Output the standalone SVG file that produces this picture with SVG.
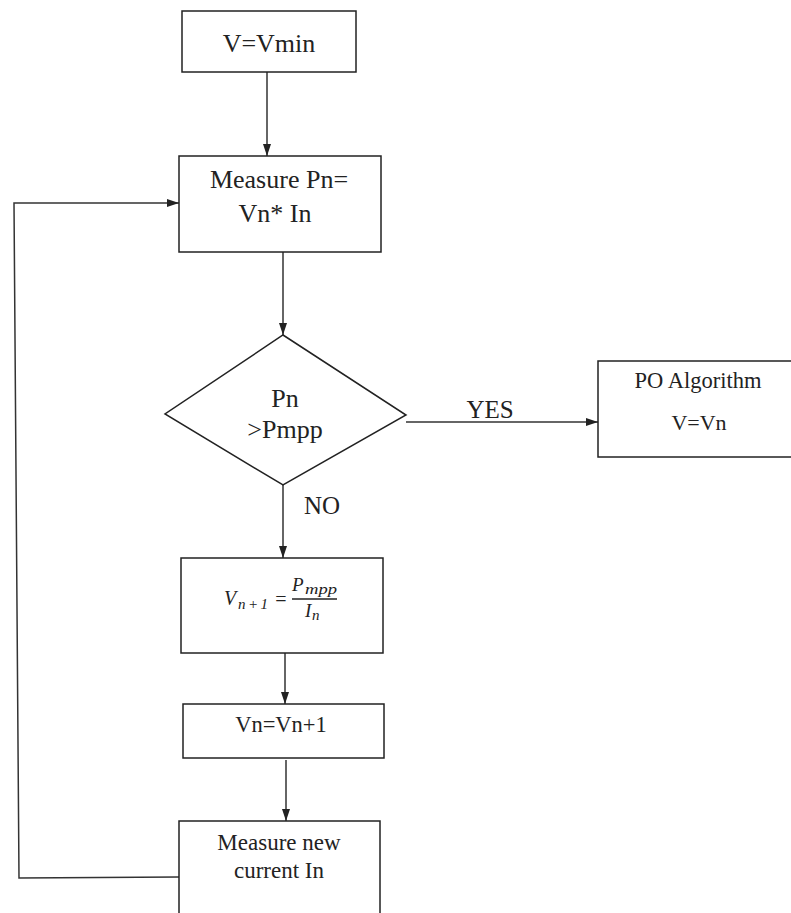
<svg xmlns="http://www.w3.org/2000/svg" width="791" height="913" viewBox="0 0 791 913">
<style>
.box{fill:#fff;stroke:#222;stroke-width:1.5}
.ln{fill:none;stroke:#333;stroke-width:1.5}
.t{font-family:'Liberation Serif','Times New Roman',serif;fill:#222;text-anchor:middle}
.m{font-family:'Liberation Serif','Times New Roman',serif;fill:#222;font-style:italic}
</style>
<defs>
<marker id="ah" viewBox="0 0 12 8" refX="12" refY="4" markerWidth="12" markerHeight="8" markerUnits="userSpaceOnUse" orient="auto">
<path d="M0,0 L12,4 L0,8 Z" fill="#222"/>
</marker>
</defs>
<rect width="791" height="913" fill="#fff"/>
<g id="connectors">
<line class="ln" x1="267" y1="72" x2="267" y2="156" marker-end="url(#ah)"/>
<line class="ln" x1="283" y1="252" x2="283" y2="335" marker-end="url(#ah)"/>
<line class="ln" x1="406" y1="422" x2="598" y2="422" marker-end="url(#ah)"/>
<line class="ln" x1="283" y1="485" x2="283" y2="558" marker-end="url(#ah)"/>
<line class="ln" x1="285" y1="653" x2="285" y2="704" marker-end="url(#ah)"/>
<line class="ln" x1="286" y1="760" x2="286" y2="821" marker-end="url(#ah)"/>
<polyline class="ln" points="179,877 19,878 14,203 179,203" marker-end="url(#ah)"/>
<text class="t" font-family="Liberation Serif, serif" x="490" y="418" font-size="25">YES</text>
<text class="t" font-family="Liberation Serif, serif" x="322" y="514" font-size="25">NO</text>
</g>
<g id="start">
<rect class="box" x="182" y="11" width="174" height="61"/>
<text class="t" font-family="Liberation Serif, serif" x="269" y="52" font-size="26">V=Vmin</text>
</g>
<g id="measure">
<rect class="box" x="179" y="156" width="202" height="96"/>
<text class="t" font-family="Liberation Serif, serif" x="279" y="188" font-size="26">Measure Pn=</text>
<text class="t" font-family="Liberation Serif, serif" x="275" y="222" font-size="26">Vn* In</text>
</g>
<g id="decision">
<polygon class="box" points="283,335 406,415 283,485 165,414"/>
<text class="t" font-family="Liberation Serif, serif" x="285" y="407" font-size="26">Pn</text>
<text class="t" font-family="Liberation Serif, serif" x="285" y="438" font-size="26">&gt;Pmpp</text>
</g>
<g id="po">
<rect class="box" x="598" y="361" width="200" height="96"/>
<text class="t" font-family="Liberation Serif, serif" x="698" y="388" font-size="22.5">PO Algorithm</text>
<text class="t" font-family="Liberation Serif, serif" x="699" y="430" font-size="22">V=Vn</text>
</g>
<g id="formula">
<rect class="box" x="181" y="558" width="202" height="95"/>
<text class="m" font-family="Liberation Serif, serif" x="224" y="605" font-size="20">V</text>
<text class="m" font-family="Liberation Serif, serif" x="238" y="609" font-size="15" textLength="30" lengthAdjust="spacing">n+1</text>
<text class="t" font-family="Liberation Serif, serif" x="281" y="606" font-size="20">=</text>
<line x1="292" y1="599" x2="337" y2="599" stroke="#222" stroke-width="1.3"/>
<text class="m" font-family="Liberation Serif, serif" x="292" y="591" font-size="19">P</text>
<text class="m" font-family="Liberation Serif, serif" x="305" y="594" font-size="15" textLength="32" lengthAdjust="spacingAndGlyphs">mpp</text>
<text class="m" font-family="Liberation Serif, serif" x="305" y="617" font-size="19">I</text>
<text class="m" font-family="Liberation Serif, serif" x="312" y="620" font-size="15">n</text>
</g>
<g id="update">
<rect class="box" x="183" y="704" width="201" height="54"/>
<text class="t" font-family="Liberation Serif, serif" x="281" y="732" font-size="22.5">Vn=Vn+1</text>
</g>
<g id="measure-new">
<rect class="box" x="179" y="821" width="201" height="100"/>
<text class="t" font-family="Liberation Serif, serif" x="279" y="850" font-size="23">Measure new</text>
<text class="t" font-family="Liberation Serif, serif" x="279" y="878" font-size="23">current In</text>
</g>
</svg>
